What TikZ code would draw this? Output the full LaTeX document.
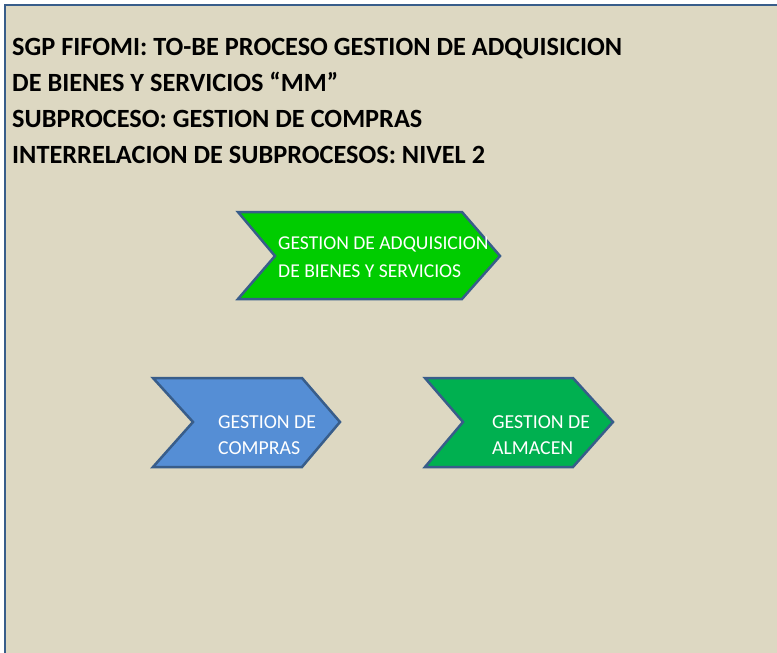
\documentclass[tikz,border=0pt]{standalone}
\usepackage{fontspec}
\setmainfont{Carlito}
\usetikzlibrary{
	calc,
	positioning,
}
\definecolor{fondo}{HTML}{DDD8C2}
\definecolor{borde}{HTML}{385D8A}
\definecolor{verdeA}{HTML}{00CC00}
\definecolor{verdeB}{HTML}{00B050}
\definecolor{azul}{HTML}{558ED5}
\tikzset{
	flecha/.style={draw=borde, line width=2.5pt, line join=miter},
	titulo/.style={anchor=base west, align=left, inner sep=0pt,
		font=\fontsize{26.3}{35.9}\selectfont\bfseries},
	etiqueta/.style={anchor=base west, align=left, inner sep=0pt, text=white,
		font=\fontsize{19.8}{26}\selectfont},
}

\begin{document}
\begin{tikzpicture}[x=1pt,y=-1pt]
\useasboundingbox (0,0) rectangle (777,653);
\clip (0,0) rectangle (777,653);
\fill[white] (0,0) rectangle (777,653);
\draw[fill=fondo, draw=borde, line width=2.8pt] (5,5) rectangle (800,680);
% flechas
\draw[flecha, fill=verdeA] (238,212) -- (462,212) -- (500,256) -- (462,299)
	-- (238,299) -- (275,256) -- cycle;
\draw[flecha, fill=azul] (153,378) -- (302,378) -- (340,422) -- (302,467)
	-- (153,467) -- (193,422) -- cycle;
\draw[flecha, fill=verdeB] (425,378) -- (573,378) -- (613,422) -- (573,467)
	-- (425,467) -- (463,422) -- cycle;
% textos (base = ultima linea)
\node[titulo] (tit) at (12,163) {SGP FIFOMI: TO-BE PROCESO GESTION DE ADQUISICION\\
	DE BIENES Y SERVICIOS “MM”\\
	SUBPROCESO: GESTION DE COMPRAS\\
	INTERRELACION DE SUBPROCESOS: NIVEL 2};
\node[etiqueta, font=\fontsize{19.6}{27.3}\selectfont] (adq) at (278,277) {GESTION DE ADQUISICION\\DE BIENES Y SERVICIOS};
\node[etiqueta] (com) at (218,454) {GESTION DE\\COMPRAS};
\node[etiqueta] (alm) at (492,454) {GESTION DE\\ALMACEN};
\end{tikzpicture}
\end{document}
